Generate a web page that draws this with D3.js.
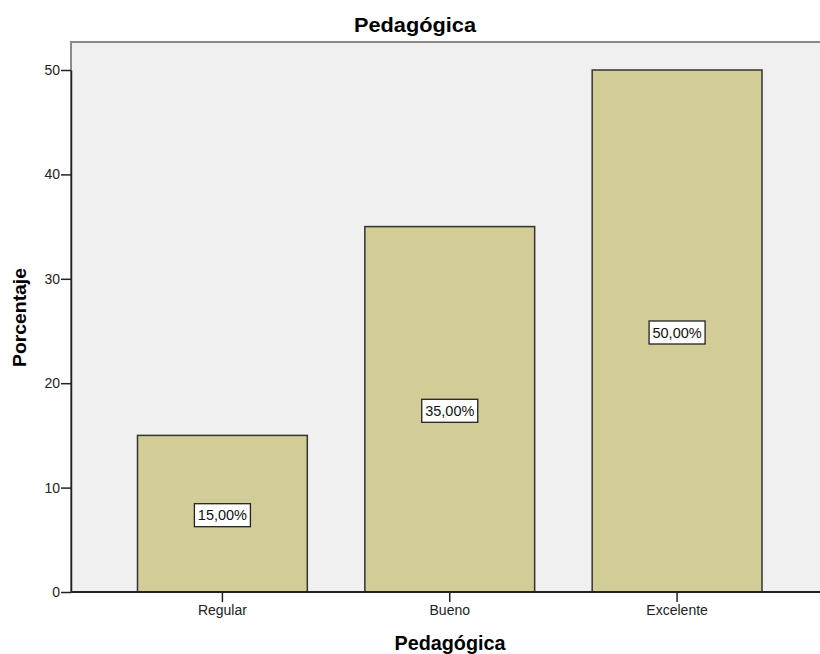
<!DOCTYPE html>
<html>
<head>
<meta charset="utf-8">
<script src="https://cdn.jsdelivr.net/npm/d3@7"></script>
<style>
  body { margin: 0; background: #fff; }
  svg { font-family: "Liberation Sans", Arial, sans-serif; }
</style>
</head>
<body>
<svg width="820" height="654"></svg>
<script>
var categories = ['Regular', 'Bueno', 'Excelente']
var percentages = [15, 35, 50]
var pctLabels = ['15,00%', '35,00%', '50,00%']
var yTicks = [0, 10, 20, 30, 40, 50]

var svg = d3.select("svg"),
    width = +svg.attr("width"),
    height = +svg.attr("height")

var plot = { left: 71, top: 42, right: 830, bottom: 592 }

var x = d3.scaleBand()
    .domain(categories)
    .range([137.5, 762])
    .paddingInner(0.253)
    .paddingOuter(0)

var y = d3.scaleLinear()
    .domain([0, 50])
    .range([plot.bottom, 70])

// plot background
svg.append("rect")
    .attr("x", plot.left)
    .attr("y", plot.top)
    .attr("width", plot.right - plot.left)
    .attr("height", plot.bottom - plot.top)
    .attr("fill", "#f0f0f0")
    .attr("stroke", "#8a8a8a")
    .attr("stroke-width", 2)

// bars
svg.selectAll("rect.bar")
    .data(percentages)
  .enter().append("rect")
    .attr("class", "bar")
    .attr("x", function (d, i) { return x(categories[i]) })
    .attr("y", function (d) { return y(d) })
    .attr("width", x.bandwidth())
    .attr("height", function (d) { return y(0) - y(d) })
    .attr("fill", "#d2cd96")
    .attr("stroke", "#333")
    .attr("stroke-width", 1.5)

// value labels, boxed, at half the bar height
var lab = svg.selectAll("g.lab")
    .data(percentages)
  .enter().append("g")
    .attr("class", "lab")
    .attr("transform", function (d, i) {
      return "translate(" + (x(categories[i]) + x.bandwidth() / 2) + "," + (y(d / 2) + 1.5) + ")"
    })

lab.append("rect")
    .attr("x", -28)
    .attr("y", -11.5)
    .attr("width", 56)
    .attr("height", 23)
    .attr("fill", "#fff")
    .attr("stroke", "#222")
    .attr("stroke-width", 1.3)

lab.append("text")
    .attr("text-anchor", "middle")
    .attr("dy", "0.36em")
    .style("font-size", "14.5px")
    .attr("fill", "#111")
    .text(function (d, i) { return pctLabels[i] })

// y axis
var yAxis = svg.append("g")
    .attr("transform", "translate(" + plot.left + ",0)")
    .call(d3.axisLeft(y).tickValues(yTicks).tickSize(10).tickPadding(1).tickSizeOuter(0))
yAxis.select(".domain").attr("stroke", "#222").attr("stroke-width", 1.5)
yAxis.selectAll(".tick line").attr("stroke", "#222").attr("stroke-width", 1.5)
yAxis.selectAll("text").style("font-size", "14px").attr("fill", "#222")
  .attr("font-family", "Liberation Sans, Arial, sans-serif")

// x axis
var xAxis = svg.append("g")
    .attr("transform", "translate(0," + plot.bottom + ")")
    .call(d3.axisBottom(x).tickSize(10).tickPadding(3).tickSizeOuter(0))
xAxis.select(".domain").attr("d", "M" + plot.left + ",0H" + plot.right)
  .attr("stroke", "#222").attr("stroke-width", 2)
xAxis.selectAll(".tick line").attr("stroke", "#222").attr("stroke-width", 1.5)
xAxis.selectAll("text").style("font-size", "14px").attr("fill", "#222")
  .attr("font-family", "Liberation Sans, Arial, sans-serif")

// titles
svg.append("text")
    .attr("x", 415)
    .attr("y", 32)
    .attr("text-anchor", "middle")
    .attr("textLength", 122)
    .attr("lengthAdjust", "spacingAndGlyphs")
    .style("font-size", "20px")
    .style("font-weight", "bold")
    .text("Pedagógica")

svg.append("text")
    .attr("x", 450)
    .attr("y", 650)
    .attr("text-anchor", "middle")
    .attr("textLength", 111)
    .attr("lengthAdjust", "spacingAndGlyphs")
    .style("font-size", "20px")
    .style("font-weight", "bold")
    .text("Pedagógica")

svg.append("text")
    .attr("transform", "translate(26,317.5) rotate(-90)")
    .attr("text-anchor", "middle")
    .attr("textLength", 99)
    .attr("lengthAdjust", "spacingAndGlyphs")
    .style("font-size", "18.5px")
    .style("font-weight", "bold")
    .text("Porcentaje")
</script>
</body>
</html>
